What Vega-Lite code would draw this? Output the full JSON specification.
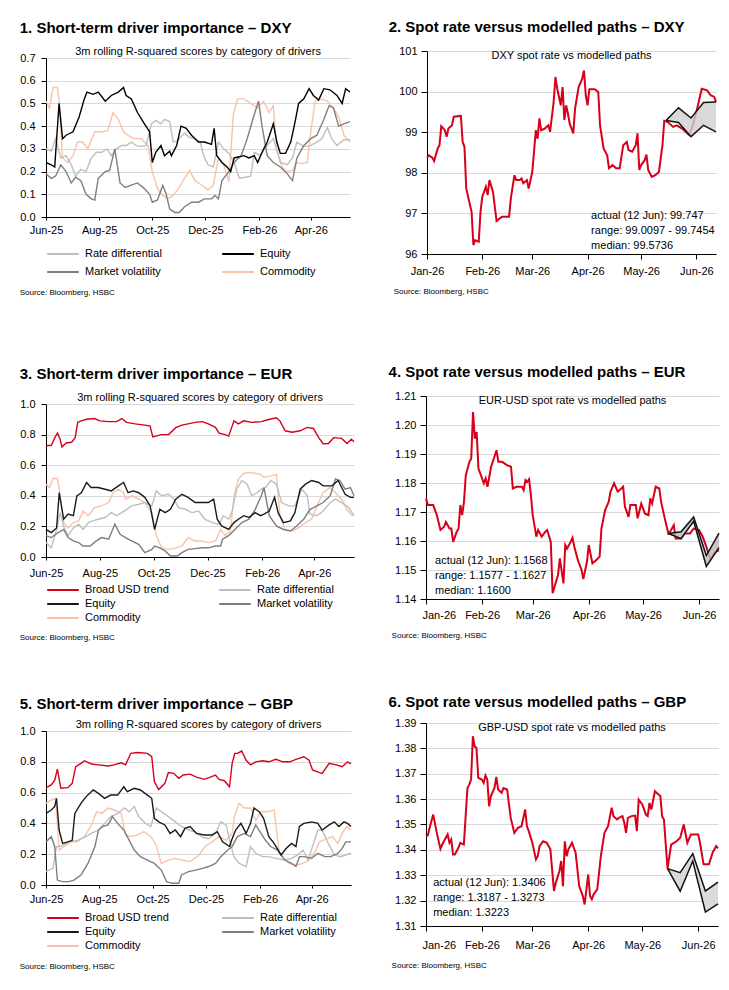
{
  "$schema": "https://vega.github.io/schema/vega-lite/v6.json",
  "background": "white",
  "padding": {"left": 19, "top": 20, "right": 5, "bottom": 5},
  "config": {
    "font": "Liberation Sans",
    "view": {"stroke": null},
    "title": {"color": "#000", "fontWeight": "normal", "font": "Liberation Sans"},
    "axis": {"labelFontSize": 11, "labelColor": "#000", "domainColor": "#000", "tickColor": "#000", "gridColor": "#d9d9d9", "labelFont": "Liberation Sans", "labelOverlap": false},
    "legend": {"labelFontSize": 11, "labelColor": "#000", "labelFont": "Liberation Sans", "symbolType": "stroke", "symbolSize": 1000, "symbolStrokeWidth": 2, "labelOffset": 5, "padding": 0},
    "text": {"font": "Liberation Sans"}
  },
  "datasets": {
    "dxy_drivers": [
      {"date":"2025-06-01","series":"Commodity","value":0.51},{"date":"2025-06-05","series":"Commodity","value":0.48},{"date":"2025-06-09","series":"Commodity","value":0.57},{"date":"2025-06-14","series":"Commodity","value":0.57},{"date":"2025-06-16","series":"Commodity","value":0.52},{"date":"2025-06-20","series":"Commodity","value":0.26},{"date":"2025-06-26","series":"Commodity","value":0.24},{"date":"2025-07-02","series":"Commodity","value":0.27},{"date":"2025-07-07","series":"Commodity","value":0.33},{"date":"2025-07-13","series":"Commodity","value":0.33},{"date":"2025-07-19","series":"Commodity","value":0.30},{"date":"2025-07-27","series":"Commodity","value":0.375},{"date":"2025-08-04","series":"Commodity","value":0.375},{"date":"2025-08-11","series":"Commodity","value":0.38},{"date":"2025-08-17","series":"Commodity","value":0.46},{"date":"2025-08-23","series":"Commodity","value":0.43},{"date":"2025-08-29","series":"Commodity","value":0.375},{"date":"2025-09-03","series":"Commodity","value":0.36},{"date":"2025-09-10","series":"Commodity","value":0.345},{"date":"2025-09-18","series":"Commodity","value":0.345},{"date":"2025-09-26","series":"Commodity","value":0.315},{"date":"2025-10-01","series":"Commodity","value":0.20},{"date":"2025-10-07","series":"Commodity","value":0.125},{"date":"2025-10-13","series":"Commodity","value":0.095},{"date":"2025-10-19","series":"Commodity","value":0.08},{"date":"2025-10-25","series":"Commodity","value":0.095},{"date":"2025-10-31","series":"Commodity","value":0.125},{"date":"2025-11-07","series":"Commodity","value":0.17},{"date":"2025-11-13","series":"Commodity","value":0.205},{"date":"2025-11-19","series":"Commodity","value":0.16},{"date":"2025-11-27","series":"Commodity","value":0.14},{"date":"2025-12-04","series":"Commodity","value":0.12},{"date":"2025-12-10","series":"Commodity","value":0.14},{"date":"2025-12-16","series":"Commodity","value":0.26},{"date":"2025-12-22","series":"Commodity","value":0.23},{"date":"2025-12-28","series":"Commodity","value":0.155},{"date":"2026-01-02","series":"Commodity","value":0.45},{"date":"2026-01-07","series":"Commodity","value":0.52},{"date":"2026-01-14","series":"Commodity","value":0.52},{"date":"2026-01-22","series":"Commodity","value":0.50},{"date":"2026-01-30","series":"Commodity","value":0.48},{"date":"2026-02-06","series":"Commodity","value":0.51},{"date":"2026-02-12","series":"Commodity","value":0.46},{"date":"2026-02-17","series":"Commodity","value":0.49},{"date":"2026-02-21","series":"Commodity","value":0.30},{"date":"2026-02-27","series":"Commodity","value":0.22},{"date":"2026-03-05","series":"Commodity","value":0.20},{"date":"2026-03-11","series":"Commodity","value":0.205},{"date":"2026-03-16","series":"Commodity","value":0.24},{"date":"2026-03-22","series":"Commodity","value":0.235},{"date":"2026-03-28","series":"Commodity","value":0.24},{"date":"2026-04-01","series":"Commodity","value":0.375},{"date":"2026-04-06","series":"Commodity","value":0.51},{"date":"2026-04-14","series":"Commodity","value":0.52},{"date":"2026-04-20","series":"Commodity","value":0.51},{"date":"2026-04-27","series":"Commodity","value":0.48},{"date":"2026-05-03","series":"Commodity","value":0.44},{"date":"2026-05-09","series":"Commodity","value":0.36},{"date":"2026-05-16","series":"Commodity","value":0.33},
      {"date":"2025-06-01","series":"Rate differential","value":0.30},{"date":"2025-06-07","series":"Rate differential","value":0.29},{"date":"2025-06-12","series":"Rate differential","value":0.345},{"date":"2025-06-18","series":"Rate differential","value":0.26},{"date":"2025-06-24","series":"Rate differential","value":0.27},{"date":"2025-06-30","series":"Rate differential","value":0.23},{"date":"2025-07-05","series":"Rate differential","value":0.18},{"date":"2025-07-11","series":"Rate differential","value":0.21},{"date":"2025-07-17","series":"Rate differential","value":0.20},{"date":"2025-07-23","series":"Rate differential","value":0.26},{"date":"2025-07-29","series":"Rate differential","value":0.285},{"date":"2025-08-04","series":"Rate differential","value":0.285},{"date":"2025-08-10","series":"Rate differential","value":0.30},{"date":"2025-08-15","series":"Rate differential","value":0.27},{"date":"2025-08-21","series":"Rate differential","value":0.30},{"date":"2025-08-27","series":"Rate differential","value":0.315},{"date":"2025-09-01","series":"Rate differential","value":0.315},{"date":"2025-09-07","series":"Rate differential","value":0.33},{"date":"2025-09-12","series":"Rate differential","value":0.315},{"date":"2025-09-18","series":"Rate differential","value":0.31},{"date":"2025-09-24","series":"Rate differential","value":0.315},{"date":"2025-09-30","series":"Rate differential","value":0.41},{"date":"2025-10-05","series":"Rate differential","value":0.425},{"date":"2025-10-11","series":"Rate differential","value":0.41},{"date":"2025-10-15","series":"Rate differential","value":0.43},{"date":"2025-10-21","series":"Rate differential","value":0.42},{"date":"2025-10-25","series":"Rate differential","value":0.33},{"date":"2025-10-31","series":"Rate differential","value":0.34},{"date":"2025-11-07","series":"Rate differential","value":0.37},{"date":"2025-11-13","series":"Rate differential","value":0.35},{"date":"2025-11-19","series":"Rate differential","value":0.345},{"date":"2025-11-25","series":"Rate differential","value":0.33},{"date":"2025-11-29","series":"Rate differential","value":0.27},{"date":"2025-12-04","series":"Rate differential","value":0.23},{"date":"2025-12-10","series":"Rate differential","value":0.22},{"date":"2025-12-16","series":"Rate differential","value":0.33},{"date":"2025-12-22","series":"Rate differential","value":0.30},{"date":"2025-12-28","series":"Rate differential","value":0.28},{"date":"2026-01-03","series":"Rate differential","value":0.24},{"date":"2026-01-09","series":"Rate differential","value":0.17},{"date":"2026-01-16","series":"Rate differential","value":0.175},{"date":"2026-01-22","series":"Rate differential","value":0.18},{"date":"2026-01-26","series":"Rate differential","value":0.285},{"date":"2026-02-02","series":"Rate differential","value":0.27},{"date":"2026-02-10","series":"Rate differential","value":0.315},{"date":"2026-02-17","series":"Rate differential","value":0.345},{"date":"2026-02-25","series":"Rate differential","value":0.24},{"date":"2026-03-05","series":"Rate differential","value":0.23},{"date":"2026-03-11","series":"Rate differential","value":0.26},{"date":"2026-03-16","series":"Rate differential","value":0.33},{"date":"2026-03-24","series":"Rate differential","value":0.31},{"date":"2026-04-01","series":"Rate differential","value":0.315},{"date":"2026-04-08","series":"Rate differential","value":0.33},{"date":"2026-04-14","series":"Rate differential","value":0.345},{"date":"2026-04-20","series":"Rate differential","value":0.395},{"date":"2026-04-25","series":"Rate differential","value":0.345},{"date":"2026-05-01","series":"Rate differential","value":0.315},{"date":"2026-05-09","series":"Rate differential","value":0.34},{"date":"2026-05-16","series":"Rate differential","value":0.34},
      {"date":"2025-06-01","series":"Market volatility","value":0.19},{"date":"2025-06-07","series":"Market volatility","value":0.17},{"date":"2025-06-12","series":"Market volatility","value":0.18},{"date":"2025-06-18","series":"Market volatility","value":0.23},{"date":"2025-06-24","series":"Market volatility","value":0.20},{"date":"2025-06-30","series":"Market volatility","value":0.15},{"date":"2025-07-05","series":"Market volatility","value":0.175},{"date":"2025-07-11","series":"Market volatility","value":0.16},{"date":"2025-07-17","series":"Market volatility","value":0.10},{"date":"2025-07-23","series":"Market volatility","value":0.08},{"date":"2025-07-27","series":"Market volatility","value":0.075},{"date":"2025-07-31","series":"Market volatility","value":0.17},{"date":"2025-08-08","series":"Market volatility","value":0.20},{"date":"2025-08-13","series":"Market volatility","value":0.205},{"date":"2025-08-19","series":"Market volatility","value":0.30},{"date":"2025-08-25","series":"Market volatility","value":0.15},{"date":"2025-08-31","series":"Market volatility","value":0.13},{"date":"2025-09-07","series":"Market volatility","value":0.14},{"date":"2025-09-14","series":"Market volatility","value":0.15},{"date":"2025-09-22","series":"Market volatility","value":0.125},{"date":"2025-09-28","series":"Market volatility","value":0.10},{"date":"2025-10-01","series":"Market volatility","value":0.065},{"date":"2025-10-07","series":"Market volatility","value":0.075},{"date":"2025-10-13","series":"Market volatility","value":0.14},{"date":"2025-10-17","series":"Market volatility","value":0.10},{"date":"2025-10-21","series":"Market volatility","value":0.035},{"date":"2025-10-27","series":"Market volatility","value":0.02},{"date":"2025-11-01","series":"Market volatility","value":0.02},{"date":"2025-11-07","series":"Market volatility","value":0.045},{"date":"2025-11-15","series":"Market volatility","value":0.065},{"date":"2025-11-23","series":"Market volatility","value":0.065},{"date":"2025-11-30","series":"Market volatility","value":0.08},{"date":"2025-12-08","series":"Market volatility","value":0.08},{"date":"2025-12-12","series":"Market volatility","value":0.095},{"date":"2025-12-16","series":"Market volatility","value":0.08},{"date":"2025-12-20","series":"Market volatility","value":0.16},{"date":"2025-12-28","series":"Market volatility","value":0.20},{"date":"2026-01-03","series":"Market volatility","value":0.24},{"date":"2026-01-11","series":"Market volatility","value":0.27},{"date":"2026-01-18","series":"Market volatility","value":0.345},{"date":"2026-01-26","series":"Market volatility","value":0.45},{"date":"2026-01-31","series":"Market volatility","value":0.51},{"date":"2026-02-04","series":"Market volatility","value":0.40},{"date":"2026-02-10","series":"Market volatility","value":0.27},{"date":"2026-02-17","series":"Market volatility","value":0.24},{"date":"2026-02-25","series":"Market volatility","value":0.22},{"date":"2026-03-05","series":"Market volatility","value":0.19},{"date":"2026-03-11","series":"Market volatility","value":0.16},{"date":"2026-03-16","series":"Market volatility","value":0.26},{"date":"2026-03-24","series":"Market volatility","value":0.315},{"date":"2026-04-01","series":"Market volatility","value":0.345},{"date":"2026-04-08","series":"Market volatility","value":0.36},{"date":"2026-04-16","series":"Market volatility","value":0.43},{"date":"2026-04-22","series":"Market volatility","value":0.49},{"date":"2026-04-27","series":"Market volatility","value":0.48},{"date":"2026-05-03","series":"Market volatility","value":0.40},{"date":"2026-05-09","series":"Market volatility","value":0.41},{"date":"2026-05-16","series":"Market volatility","value":0.42},
      {"date":"2025-06-01","series":"Equity","value":0.24},{"date":"2025-06-07","series":"Equity","value":0.23},{"date":"2025-06-11","series":"Equity","value":0.22},{"date":"2025-06-16","series":"Equity","value":0.50},{"date":"2025-06-20","series":"Equity","value":0.345},{"date":"2025-06-24","series":"Equity","value":0.36},{"date":"2025-07-02","series":"Equity","value":0.375},{"date":"2025-07-09","series":"Equity","value":0.44},{"date":"2025-07-15","series":"Equity","value":0.52},{"date":"2025-07-18","series":"Equity","value":0.55},{"date":"2025-07-25","series":"Equity","value":0.54},{"date":"2025-07-31","series":"Equity","value":0.55},{"date":"2025-08-08","series":"Equity","value":0.51},{"date":"2025-08-15","series":"Equity","value":0.535},{"date":"2025-08-23","series":"Equity","value":0.55},{"date":"2025-08-29","series":"Equity","value":0.57},{"date":"2025-09-01","series":"Equity","value":0.535},{"date":"2025-09-07","series":"Equity","value":0.52},{"date":"2025-09-14","series":"Equity","value":0.46},{"date":"2025-09-22","series":"Equity","value":0.41},{"date":"2025-09-28","series":"Equity","value":0.375},{"date":"2025-10-01","series":"Equity","value":0.24},{"date":"2025-10-05","series":"Equity","value":0.285},{"date":"2025-10-11","series":"Equity","value":0.315},{"date":"2025-10-15","series":"Equity","value":0.27},{"date":"2025-10-21","series":"Equity","value":0.29},{"date":"2025-10-23","series":"Equity","value":0.27},{"date":"2025-10-29","series":"Equity","value":0.315},{"date":"2025-11-03","series":"Equity","value":0.40},{"date":"2025-11-09","series":"Equity","value":0.39},{"date":"2025-11-15","series":"Equity","value":0.36},{"date":"2025-11-23","series":"Equity","value":0.33},{"date":"2025-11-30","series":"Equity","value":0.33},{"date":"2025-12-08","series":"Equity","value":0.32},{"date":"2025-12-11","series":"Equity","value":0.39},{"date":"2025-12-14","series":"Equity","value":0.27},{"date":"2025-12-20","series":"Equity","value":0.24},{"date":"2025-12-26","series":"Equity","value":0.22},{"date":"2025-12-30","series":"Equity","value":0.20},{"date":"2026-01-03","series":"Equity","value":0.26},{"date":"2026-01-09","series":"Equity","value":0.265},{"date":"2026-01-14","series":"Equity","value":0.27},{"date":"2026-01-20","series":"Equity","value":0.26},{"date":"2026-01-26","series":"Equity","value":0.27},{"date":"2026-01-30","series":"Equity","value":0.24},{"date":"2026-02-04","series":"Equity","value":0.285},{"date":"2026-02-10","series":"Equity","value":0.33},{"date":"2026-02-17","series":"Equity","value":0.41},{"date":"2026-02-21","series":"Equity","value":0.33},{"date":"2026-02-25","series":"Equity","value":0.28},{"date":"2026-03-03","series":"Equity","value":0.28},{"date":"2026-03-09","series":"Equity","value":0.33},{"date":"2026-03-14","series":"Equity","value":0.42},{"date":"2026-03-18","series":"Equity","value":0.50},{"date":"2026-03-24","series":"Equity","value":0.52},{"date":"2026-03-30","series":"Equity","value":0.565},{"date":"2026-04-04","series":"Equity","value":0.535},{"date":"2026-04-10","series":"Equity","value":0.515},{"date":"2026-04-16","series":"Equity","value":0.565},{"date":"2026-04-23","series":"Equity","value":0.56},{"date":"2026-05-01","series":"Equity","value":0.535},{"date":"2026-05-07","series":"Equity","value":0.50},{"date":"2026-05-11","series":"Equity","value":0.565},{"date":"2026-05-16","series":"Equity","value":0.55}
    ],
    "eur_drivers": [
      {"date":"2025-06-01","series":"Commodity","value":0.476},{"date":"2025-06-05","series":"Commodity","value":0.454},{"date":"2025-06-09","series":"Commodity","value":0.513},{"date":"2025-06-14","series":"Commodity","value":0.513},{"date":"2025-06-17","series":"Commodity","value":0.40},{"date":"2025-06-21","series":"Commodity","value":0.225},{"date":"2025-06-26","series":"Commodity","value":0.19},{"date":"2025-07-02","series":"Commodity","value":0.225},{"date":"2025-07-08","series":"Commodity","value":0.236},{"date":"2025-07-13","series":"Commodity","value":0.30},{"date":"2025-07-19","series":"Commodity","value":0.27},{"date":"2025-07-26","series":"Commodity","value":0.323},{"date":"2025-08-03","series":"Commodity","value":0.334},{"date":"2025-08-11","series":"Commodity","value":0.356},{"date":"2025-08-16","series":"Commodity","value":0.42},{"date":"2025-08-22","series":"Commodity","value":0.443},{"date":"2025-08-28","series":"Commodity","value":0.42},{"date":"2025-08-30","series":"Commodity","value":0.378},{"date":"2025-09-06","series":"Commodity","value":0.40},{"date":"2025-09-14","series":"Commodity","value":0.378},{"date":"2025-09-21","series":"Commodity","value":0.356},{"date":"2025-09-29","series":"Commodity","value":0.29},{"date":"2025-10-04","series":"Commodity","value":0.14},{"date":"2025-10-10","series":"Commodity","value":0.06},{"date":"2025-10-18","series":"Commodity","value":0.05},{"date":"2025-10-26","series":"Commodity","value":0.06},{"date":"2025-11-02","series":"Commodity","value":0.072},{"date":"2025-11-09","series":"Commodity","value":0.127},{"date":"2025-11-17","series":"Commodity","value":0.105},{"date":"2025-11-25","series":"Commodity","value":0.105},{"date":"2025-12-02","series":"Commodity","value":0.094},{"date":"2025-12-10","series":"Commodity","value":0.105},{"date":"2025-12-16","series":"Commodity","value":0.18},{"date":"2025-12-21","series":"Commodity","value":0.14},{"date":"2025-12-27","series":"Commodity","value":0.17},{"date":"2025-12-31","series":"Commodity","value":0.40},{"date":"2026-01-05","series":"Commodity","value":0.51},{"date":"2026-01-11","series":"Commodity","value":0.548},{"date":"2026-01-20","series":"Commodity","value":0.552},{"date":"2026-01-30","series":"Commodity","value":0.54},{"date":"2026-02-03","series":"Commodity","value":0.52},{"date":"2026-02-11","series":"Commodity","value":0.53},{"date":"2026-02-17","series":"Commodity","value":0.54},{"date":"2026-02-21","series":"Commodity","value":0.27},{"date":"2026-02-27","series":"Commodity","value":0.18},{"date":"2026-03-07","series":"Commodity","value":0.17},{"date":"2026-03-14","series":"Commodity","value":0.19},{"date":"2026-03-22","series":"Commodity","value":0.225},{"date":"2026-03-29","series":"Commodity","value":0.247},{"date":"2026-04-04","series":"Commodity","value":0.334},{"date":"2026-04-11","series":"Commodity","value":0.42},{"date":"2026-04-19","series":"Commodity","value":0.454},{"date":"2026-04-25","series":"Commodity","value":0.42},{"date":"2026-05-02","series":"Commodity","value":0.378},{"date":"2026-05-08","series":"Commodity","value":0.31},{"date":"2026-05-14","series":"Commodity","value":0.27},{"date":"2026-05-16","series":"Commodity","value":0.28},
      {"date":"2025-06-01","series":"Rate differential","value":0.094},{"date":"2025-06-07","series":"Rate differential","value":0.06},{"date":"2025-06-13","series":"Rate differential","value":0.18},{"date":"2025-06-17","series":"Rate differential","value":0.29},{"date":"2025-06-21","series":"Rate differential","value":0.20},{"date":"2025-06-26","series":"Rate differential","value":0.14},{"date":"2025-07-02","series":"Rate differential","value":0.19},{"date":"2025-07-08","series":"Rate differential","value":0.214},{"date":"2025-07-13","series":"Rate differential","value":0.18},{"date":"2025-07-19","series":"Rate differential","value":0.225},{"date":"2025-07-24","series":"Rate differential","value":0.236},{"date":"2025-07-30","series":"Rate differential","value":0.247},{"date":"2025-08-07","series":"Rate differential","value":0.258},{"date":"2025-08-14","series":"Rate differential","value":0.29},{"date":"2025-08-20","series":"Rate differential","value":0.27},{"date":"2025-08-26","series":"Rate differential","value":0.29},{"date":"2025-08-31","series":"Rate differential","value":0.31},{"date":"2025-09-06","series":"Rate differential","value":0.334},{"date":"2025-09-14","series":"Rate differential","value":0.345},{"date":"2025-09-21","series":"Rate differential","value":0.356},{"date":"2025-09-29","series":"Rate differential","value":0.334},{"date":"2025-10-04","series":"Rate differential","value":0.432},{"date":"2025-10-10","series":"Rate differential","value":0.40},{"date":"2025-10-18","series":"Rate differential","value":0.41},{"date":"2025-10-24","series":"Rate differential","value":0.378},{"date":"2025-10-29","series":"Rate differential","value":0.323},{"date":"2025-11-06","series":"Rate differential","value":0.312},{"date":"2025-11-13","series":"Rate differential","value":0.29},{"date":"2025-11-21","series":"Rate differential","value":0.30},{"date":"2025-11-28","series":"Rate differential","value":0.247},{"date":"2025-12-06","series":"Rate differential","value":0.225},{"date":"2025-12-14","series":"Rate differential","value":0.214},{"date":"2025-12-19","series":"Rate differential","value":0.27},{"date":"2025-12-25","series":"Rate differential","value":0.247},{"date":"2025-12-29","series":"Rate differential","value":0.30},{"date":"2026-01-03","series":"Rate differential","value":0.443},{"date":"2026-01-09","series":"Rate differential","value":0.50},{"date":"2026-01-15","series":"Rate differential","value":0.476},{"date":"2026-01-20","series":"Rate differential","value":0.40},{"date":"2026-01-26","series":"Rate differential","value":0.42},{"date":"2026-01-31","series":"Rate differential","value":0.443},{"date":"2026-02-05","series":"Rate differential","value":0.454},{"date":"2026-02-11","series":"Rate differential","value":0.50},{"date":"2026-02-17","series":"Rate differential","value":0.476},{"date":"2026-02-23","series":"Rate differential","value":0.356},{"date":"2026-03-03","series":"Rate differential","value":0.334},{"date":"2026-03-10","series":"Rate differential","value":0.334},{"date":"2026-03-18","series":"Rate differential","value":0.443},{"date":"2026-03-24","series":"Rate differential","value":0.40},{"date":"2026-03-27","series":"Rate differential","value":0.28},{"date":"2026-04-04","series":"Rate differential","value":0.27},{"date":"2026-04-11","series":"Rate differential","value":0.30},{"date":"2026-04-19","series":"Rate differential","value":0.356},{"date":"2026-04-25","series":"Rate differential","value":0.378},{"date":"2026-05-02","series":"Rate differential","value":0.356},{"date":"2026-05-10","series":"Rate differential","value":0.323},{"date":"2026-05-16","series":"Rate differential","value":0.27},
      {"date":"2025-06-01","series":"Market volatility","value":0.14},{"date":"2025-06-07","series":"Market volatility","value":0.127},{"date":"2025-06-15","series":"Market volatility","value":0.16},{"date":"2025-06-21","series":"Market volatility","value":0.18},{"date":"2025-06-26","series":"Market volatility","value":0.127},{"date":"2025-07-02","series":"Market volatility","value":0.105},{"date":"2025-07-08","series":"Market volatility","value":0.094},{"date":"2025-07-13","series":"Market volatility","value":0.072},{"date":"2025-07-21","series":"Market volatility","value":0.072},{"date":"2025-07-28","series":"Market volatility","value":0.105},{"date":"2025-08-03","series":"Market volatility","value":0.127},{"date":"2025-08-11","series":"Market volatility","value":0.116},{"date":"2025-08-18","series":"Market volatility","value":0.214},{"date":"2025-08-24","series":"Market volatility","value":0.148},{"date":"2025-08-30","series":"Market volatility","value":0.127},{"date":"2025-09-06","series":"Market volatility","value":0.105},{"date":"2025-09-14","series":"Market volatility","value":0.083},{"date":"2025-09-21","series":"Market volatility","value":0.028},{"date":"2025-09-29","series":"Market volatility","value":0.05},{"date":"2025-10-02","series":"Market volatility","value":0.072},{"date":"2025-10-08","series":"Market volatility","value":0.06},{"date":"2025-10-14","series":"Market volatility","value":0.04},{"date":"2025-10-20","series":"Market volatility","value":0.007},{"date":"2025-10-28","series":"Market volatility","value":0.007},{"date":"2025-11-02","series":"Market volatility","value":0.028},{"date":"2025-11-09","series":"Market volatility","value":0.05},{"date":"2025-11-17","series":"Market volatility","value":0.055},{"date":"2025-11-25","series":"Market volatility","value":0.06},{"date":"2025-12-02","series":"Market volatility","value":0.06},{"date":"2025-12-10","series":"Market volatility","value":0.072},{"date":"2025-12-16","series":"Market volatility","value":0.072},{"date":"2025-12-18","series":"Market volatility","value":0.116},{"date":"2025-12-25","series":"Market volatility","value":0.14},{"date":"2026-01-01","series":"Market volatility","value":0.18},{"date":"2026-01-09","series":"Market volatility","value":0.225},{"date":"2026-01-17","series":"Market volatility","value":0.247},{"date":"2026-01-24","series":"Market volatility","value":0.31},{"date":"2026-01-31","series":"Market volatility","value":0.40},{"date":"2026-02-03","series":"Market volatility","value":0.454},{"date":"2026-02-09","series":"Market volatility","value":0.27},{"date":"2026-02-17","series":"Market volatility","value":0.203},{"date":"2026-02-25","series":"Market volatility","value":0.18},{"date":"2026-03-05","series":"Market volatility","value":0.17},{"date":"2026-03-12","series":"Market volatility","value":0.203},{"date":"2026-03-20","series":"Market volatility","value":0.247},{"date":"2026-03-27","series":"Market volatility","value":0.31},{"date":"2026-04-04","series":"Market volatility","value":0.334},{"date":"2026-04-11","series":"Market volatility","value":0.356},{"date":"2026-04-19","series":"Market volatility","value":0.40},{"date":"2026-04-25","series":"Market volatility","value":0.51},{"date":"2026-04-30","series":"Market volatility","value":0.50},{"date":"2026-05-06","series":"Market volatility","value":0.443},{"date":"2026-05-12","series":"Market volatility","value":0.454},{"date":"2026-05-16","series":"Market volatility","value":0.40},
      {"date":"2025-06-01","series":"Equity","value":0.18},{"date":"2025-06-07","series":"Equity","value":0.16},{"date":"2025-06-13","series":"Equity","value":0.19},{"date":"2025-06-16","series":"Equity","value":0.42},{"date":"2025-06-21","series":"Equity","value":0.247},{"date":"2025-06-26","series":"Equity","value":0.28},{"date":"2025-07-02","series":"Equity","value":0.27},{"date":"2025-07-06","series":"Equity","value":0.40},{"date":"2025-07-11","series":"Equity","value":0.42},{"date":"2025-07-17","series":"Equity","value":0.487},{"date":"2025-07-22","series":"Equity","value":0.454},{"date":"2025-07-30","series":"Equity","value":0.454},{"date":"2025-08-07","series":"Equity","value":0.443},{"date":"2025-08-14","series":"Equity","value":0.432},{"date":"2025-08-22","series":"Equity","value":0.465},{"date":"2025-08-28","series":"Equity","value":0.487},{"date":"2025-09-02","series":"Equity","value":0.42},{"date":"2025-09-08","series":"Equity","value":0.432},{"date":"2025-09-14","series":"Equity","value":0.42},{"date":"2025-09-21","series":"Equity","value":0.39},{"date":"2025-09-27","series":"Equity","value":0.334},{"date":"2025-10-02","series":"Equity","value":0.18},{"date":"2025-10-08","series":"Equity","value":0.312},{"date":"2025-10-14","series":"Equity","value":0.29},{"date":"2025-10-20","series":"Equity","value":0.312},{"date":"2025-10-26","series":"Equity","value":0.378},{"date":"2025-11-02","series":"Equity","value":0.41},{"date":"2025-11-09","series":"Equity","value":0.39},{"date":"2025-11-17","series":"Equity","value":0.356},{"date":"2025-11-25","series":"Equity","value":0.356},{"date":"2025-12-02","series":"Equity","value":0.356},{"date":"2025-12-08","series":"Equity","value":0.378},{"date":"2025-12-12","series":"Equity","value":0.247},{"date":"2025-12-17","series":"Equity","value":0.203},{"date":"2025-12-25","series":"Equity","value":0.18},{"date":"2025-12-31","series":"Equity","value":0.225},{"date":"2026-01-05","series":"Equity","value":0.247},{"date":"2026-01-11","series":"Equity","value":0.27},{"date":"2026-01-17","series":"Equity","value":0.258},{"date":"2026-01-24","series":"Equity","value":0.29},{"date":"2026-01-30","series":"Equity","value":0.27},{"date":"2026-02-03","series":"Equity","value":0.28},{"date":"2026-02-09","series":"Equity","value":0.30},{"date":"2026-02-15","series":"Equity","value":0.39},{"date":"2026-02-19","series":"Equity","value":0.29},{"date":"2026-02-25","series":"Equity","value":0.225},{"date":"2026-03-05","series":"Equity","value":0.236},{"date":"2026-03-10","series":"Equity","value":0.29},{"date":"2026-03-16","series":"Equity","value":0.443},{"date":"2026-03-22","series":"Equity","value":0.476},{"date":"2026-03-29","series":"Equity","value":0.50},{"date":"2026-04-06","series":"Equity","value":0.487},{"date":"2026-04-11","series":"Equity","value":0.465},{"date":"2026-04-21","series":"Equity","value":0.465},{"date":"2026-04-28","series":"Equity","value":0.50},{"date":"2026-05-06","series":"Equity","value":0.41},{"date":"2026-05-12","series":"Equity","value":0.39},{"date":"2026-05-16","series":"Equity","value":0.39},
      {"date":"2025-06-01","series":"Broad USD trend","value":0.727},{"date":"2025-06-07","series":"Broad USD trend","value":0.73},{"date":"2025-06-11","series":"Broad USD trend","value":0.78},{"date":"2025-06-14","series":"Broad USD trend","value":0.81},{"date":"2025-06-17","series":"Broad USD trend","value":0.77},{"date":"2025-06-19","series":"Broad USD trend","value":0.72},{"date":"2025-06-24","series":"Broad USD trend","value":0.745},{"date":"2025-06-30","series":"Broad USD trend","value":0.75},{"date":"2025-07-04","series":"Broad USD trend","value":0.78},{"date":"2025-07-07","series":"Broad USD trend","value":0.88},{"date":"2025-07-11","series":"Broad USD trend","value":0.89},{"date":"2025-07-17","series":"Broad USD trend","value":0.90},{"date":"2025-07-26","series":"Broad USD trend","value":0.905},{"date":"2025-08-01","series":"Broad USD trend","value":0.89},{"date":"2025-08-11","series":"Broad USD trend","value":0.885},{"date":"2025-08-20","series":"Broad USD trend","value":0.885},{"date":"2025-08-26","series":"Broad USD trend","value":0.905},{"date":"2025-08-31","series":"Broad USD trend","value":0.88},{"date":"2025-09-10","series":"Broad USD trend","value":0.87},{"date":"2025-09-21","series":"Broad USD trend","value":0.862},{"date":"2025-09-27","series":"Broad USD trend","value":0.855},{"date":"2025-09-30","series":"Broad USD trend","value":0.785},{"date":"2025-10-10","series":"Broad USD trend","value":0.80},{"date":"2025-10-18","series":"Broad USD trend","value":0.80},{"date":"2025-10-26","series":"Broad USD trend","value":0.845},{"date":"2025-11-02","series":"Broad USD trend","value":0.862},{"date":"2025-11-09","series":"Broad USD trend","value":0.87},{"date":"2025-11-17","series":"Broad USD trend","value":0.88},{"date":"2025-11-25","series":"Broad USD trend","value":0.885},{"date":"2025-12-02","series":"Broad USD trend","value":0.87},{"date":"2025-12-10","series":"Broad USD trend","value":0.847},{"date":"2025-12-14","series":"Broad USD trend","value":0.81},{"date":"2025-12-21","series":"Broad USD trend","value":0.80},{"date":"2025-12-25","series":"Broad USD trend","value":0.79},{"date":"2025-12-31","series":"Broad USD trend","value":0.89},{"date":"2026-01-05","series":"Broad USD trend","value":0.87},{"date":"2026-01-11","series":"Broad USD trend","value":0.89},{"date":"2026-01-20","series":"Broad USD trend","value":0.88},{"date":"2026-01-31","series":"Broad USD trend","value":0.885},{"date":"2026-02-07","series":"Broad USD trend","value":0.897},{"date":"2026-02-17","series":"Broad USD trend","value":0.91},{"date":"2026-02-21","series":"Broad USD trend","value":0.89},{"date":"2026-02-27","series":"Broad USD trend","value":0.825},{"date":"2026-03-07","series":"Broad USD trend","value":0.815},{"date":"2026-03-16","series":"Broad USD trend","value":0.825},{"date":"2026-03-24","series":"Broad USD trend","value":0.847},{"date":"2026-03-31","series":"Broad USD trend","value":0.84},{"date":"2026-04-06","series":"Broad USD trend","value":0.78},{"date":"2026-04-11","series":"Broad USD trend","value":0.74},{"date":"2026-04-17","series":"Broad USD trend","value":0.742},{"date":"2026-04-23","series":"Broad USD trend","value":0.78},{"date":"2026-05-02","series":"Broad USD trend","value":0.775},{"date":"2026-05-08","series":"Broad USD trend","value":0.742},{"date":"2026-05-13","series":"Broad USD trend","value":0.77},{"date":"2026-05-16","series":"Broad USD trend","value":0.753}
    ],
    "gbp_drivers": [
      {"date":"2025-06-01","series":"Commodity","value":0.53},{"date":"2025-06-07","series":"Commodity","value":0.552},{"date":"2025-06-12","series":"Commodity","value":0.563},{"date":"2025-06-16","series":"Commodity","value":0.227},{"date":"2025-06-22","series":"Commodity","value":0.25},{"date":"2025-06-29","series":"Commodity","value":0.28},{"date":"2025-07-07","series":"Commodity","value":0.28},{"date":"2025-07-15","series":"Commodity","value":0.314},{"date":"2025-07-23","series":"Commodity","value":0.39},{"date":"2025-07-29","series":"Commodity","value":0.476},{"date":"2025-08-04","series":"Commodity","value":0.465},{"date":"2025-08-11","series":"Commodity","value":0.50},{"date":"2025-08-18","series":"Commodity","value":0.487},{"date":"2025-08-26","series":"Commodity","value":0.465},{"date":"2025-08-31","series":"Commodity","value":0.325},{"date":"2025-09-06","series":"Commodity","value":0.314},{"date":"2025-09-14","series":"Commodity","value":0.325},{"date":"2025-09-21","series":"Commodity","value":0.346},{"date":"2025-09-29","series":"Commodity","value":0.314},{"date":"2025-10-05","series":"Commodity","value":0.26},{"date":"2025-10-11","series":"Commodity","value":0.14},{"date":"2025-10-19","series":"Commodity","value":0.162},{"date":"2025-10-27","series":"Commodity","value":0.173},{"date":"2025-11-03","series":"Commodity","value":0.162},{"date":"2025-11-13","series":"Commodity","value":0.152},{"date":"2025-11-23","series":"Commodity","value":0.195},{"date":"2025-11-30","series":"Commodity","value":0.25},{"date":"2025-12-08","series":"Commodity","value":0.28},{"date":"2025-12-16","series":"Commodity","value":0.314},{"date":"2025-12-24","series":"Commodity","value":0.292},{"date":"2025-12-31","series":"Commodity","value":0.335},{"date":"2026-01-03","series":"Commodity","value":0.455},{"date":"2026-01-08","series":"Commodity","value":0.53},{"date":"2026-01-14","series":"Commodity","value":0.50},{"date":"2026-01-21","series":"Commodity","value":0.50},{"date":"2026-01-27","series":"Commodity","value":0.42},{"date":"2026-02-02","series":"Commodity","value":0.476},{"date":"2026-02-09","series":"Commodity","value":0.476},{"date":"2026-02-17","series":"Commodity","value":0.487},{"date":"2026-02-23","series":"Commodity","value":0.206},{"date":"2026-03-01","series":"Commodity","value":0.173},{"date":"2026-03-06","series":"Commodity","value":0.14},{"date":"2026-03-14","series":"Commodity","value":0.13},{"date":"2026-03-22","series":"Commodity","value":0.14},{"date":"2026-03-29","series":"Commodity","value":0.162},{"date":"2026-04-04","series":"Commodity","value":0.206},{"date":"2026-04-10","series":"Commodity","value":0.28},{"date":"2026-04-18","series":"Commodity","value":0.30},{"date":"2026-04-25","series":"Commodity","value":0.314},{"date":"2026-05-01","series":"Commodity","value":0.27},{"date":"2026-05-06","series":"Commodity","value":0.335},{"date":"2026-05-11","series":"Commodity","value":0.38},{"date":"2026-05-16","series":"Commodity","value":0.357},
      {"date":"2025-06-01","series":"Rate differential","value":0.087},{"date":"2025-06-09","series":"Rate differential","value":0.108},{"date":"2025-06-13","series":"Rate differential","value":0.25},{"date":"2025-06-18","series":"Rate differential","value":0.25},{"date":"2025-06-24","series":"Rate differential","value":0.27},{"date":"2025-06-29","series":"Rate differential","value":0.28},{"date":"2025-07-07","series":"Rate differential","value":0.29},{"date":"2025-07-15","series":"Rate differential","value":0.31},{"date":"2025-07-23","series":"Rate differential","value":0.335},{"date":"2025-07-31","series":"Rate differential","value":0.357},{"date":"2025-08-07","series":"Rate differential","value":0.40},{"date":"2025-08-14","series":"Rate differential","value":0.444},{"date":"2025-08-22","series":"Rate differential","value":0.465},{"date":"2025-08-30","series":"Rate differential","value":0.50},{"date":"2025-09-04","series":"Rate differential","value":0.476},{"date":"2025-09-10","series":"Rate differential","value":0.51},{"date":"2025-09-15","series":"Rate differential","value":0.444},{"date":"2025-09-23","series":"Rate differential","value":0.40},{"date":"2025-09-29","series":"Rate differential","value":0.38},{"date":"2025-10-05","series":"Rate differential","value":0.50},{"date":"2025-10-11","series":"Rate differential","value":0.476},{"date":"2025-10-19","series":"Rate differential","value":0.444},{"date":"2025-10-27","series":"Rate differential","value":0.41},{"date":"2025-11-03","series":"Rate differential","value":0.38},{"date":"2025-11-11","series":"Rate differential","value":0.357},{"date":"2025-11-19","series":"Rate differential","value":0.346},{"date":"2025-11-27","series":"Rate differential","value":0.31},{"date":"2025-12-04","series":"Rate differential","value":0.30},{"date":"2025-12-12","series":"Rate differential","value":0.335},{"date":"2025-12-18","series":"Rate differential","value":0.41},{"date":"2025-12-24","series":"Rate differential","value":0.39},{"date":"2025-12-30","series":"Rate differential","value":0.25},{"date":"2026-01-02","series":"Rate differential","value":0.184},{"date":"2026-01-08","series":"Rate differential","value":0.14},{"date":"2026-01-16","series":"Rate differential","value":0.12},{"date":"2026-01-21","series":"Rate differential","value":0.25},{"date":"2026-01-27","series":"Rate differential","value":0.206},{"date":"2026-02-04","series":"Rate differential","value":0.184},{"date":"2026-02-11","series":"Rate differential","value":0.184},{"date":"2026-02-19","series":"Rate differential","value":0.173},{"date":"2026-03-01","series":"Rate differential","value":0.162},{"date":"2026-03-09","series":"Rate differential","value":0.173},{"date":"2026-03-16","series":"Rate differential","value":0.195},{"date":"2026-03-22","series":"Rate differential","value":0.227},{"date":"2026-03-28","series":"Rate differential","value":0.162},{"date":"2026-04-02","series":"Rate differential","value":0.25},{"date":"2026-04-08","series":"Rate differential","value":0.357},{"date":"2026-04-13","series":"Rate differential","value":0.357},{"date":"2026-04-20","series":"Rate differential","value":0.27},{"date":"2026-04-27","series":"Rate differential","value":0.195},{"date":"2026-05-04","series":"Rate differential","value":0.184},{"date":"2026-05-10","series":"Rate differential","value":0.195},{"date":"2026-05-16","series":"Rate differential","value":0.206},
      {"date":"2025-06-01","series":"Market volatility","value":0.28},{"date":"2025-06-07","series":"Market volatility","value":0.314},{"date":"2025-06-11","series":"Market volatility","value":0.25},{"date":"2025-06-14","series":"Market volatility","value":0.032},{"date":"2025-06-20","series":"Market volatility","value":0.022},{"date":"2025-06-27","series":"Market volatility","value":0.022},{"date":"2025-07-03","series":"Market volatility","value":0.032},{"date":"2025-07-11","series":"Market volatility","value":0.065},{"date":"2025-07-19","series":"Market volatility","value":0.14},{"date":"2025-07-27","series":"Market volatility","value":0.25},{"date":"2025-07-31","series":"Market volatility","value":0.357},{"date":"2025-08-05","series":"Market volatility","value":0.38},{"date":"2025-08-11","series":"Market volatility","value":0.39},{"date":"2025-08-16","series":"Market volatility","value":0.444},{"date":"2025-08-22","series":"Market volatility","value":0.40},{"date":"2025-08-29","series":"Market volatility","value":0.357},{"date":"2025-09-02","series":"Market volatility","value":0.314},{"date":"2025-09-10","series":"Market volatility","value":0.227},{"date":"2025-09-17","series":"Market volatility","value":0.184},{"date":"2025-09-25","series":"Market volatility","value":0.162},{"date":"2025-10-03","series":"Market volatility","value":0.14},{"date":"2025-10-11","series":"Market volatility","value":0.097},{"date":"2025-10-17","series":"Market volatility","value":0.022},{"date":"2025-10-23","series":"Market volatility","value":0.011},{"date":"2025-10-31","series":"Market volatility","value":0.011},{"date":"2025-11-03","series":"Market volatility","value":0.065},{"date":"2025-11-11","series":"Market volatility","value":0.087},{"date":"2025-11-19","series":"Market volatility","value":0.097},{"date":"2025-11-27","series":"Market volatility","value":0.108},{"date":"2025-12-04","series":"Market volatility","value":0.12},{"date":"2025-12-12","series":"Market volatility","value":0.14},{"date":"2025-12-18","series":"Market volatility","value":0.184},{"date":"2025-12-26","series":"Market volatility","value":0.227},{"date":"2025-12-31","series":"Market volatility","value":0.25},{"date":"2026-01-06","series":"Market volatility","value":0.314},{"date":"2026-01-14","series":"Market volatility","value":0.335},{"date":"2026-01-21","series":"Market volatility","value":0.314},{"date":"2026-01-27","series":"Market volatility","value":0.39},{"date":"2026-02-02","series":"Market volatility","value":0.335},{"date":"2026-02-07","series":"Market volatility","value":0.292},{"date":"2026-02-13","series":"Market volatility","value":0.25},{"date":"2026-02-21","series":"Market volatility","value":0.227},{"date":"2026-03-01","series":"Market volatility","value":0.162},{"date":"2026-03-09","series":"Market volatility","value":0.14},{"date":"2026-03-14","series":"Market volatility","value":0.12},{"date":"2026-03-18","series":"Market volatility","value":0.184},{"date":"2026-03-23","series":"Market volatility","value":0.184},{"date":"2026-04-01","series":"Market volatility","value":0.173},{"date":"2026-04-08","series":"Market volatility","value":0.206},{"date":"2026-04-16","series":"Market volatility","value":0.184},{"date":"2026-04-23","series":"Market volatility","value":0.184},{"date":"2026-05-01","series":"Market volatility","value":0.206},{"date":"2026-05-06","series":"Market volatility","value":0.238},{"date":"2026-05-10","series":"Market volatility","value":0.28},{"date":"2026-05-16","series":"Market volatility","value":0.28},
      {"date":"2025-06-01","series":"Equity","value":0.465},{"date":"2025-06-07","series":"Equity","value":0.487},{"date":"2025-06-11","series":"Equity","value":0.51},{"date":"2025-06-13","series":"Equity","value":0.563},{"date":"2025-06-16","series":"Equity","value":0.357},{"date":"2025-06-20","series":"Equity","value":0.27},{"date":"2025-06-26","series":"Equity","value":0.28},{"date":"2025-07-01","series":"Equity","value":0.29},{"date":"2025-07-04","series":"Equity","value":0.465},{"date":"2025-07-11","series":"Equity","value":0.53},{"date":"2025-07-17","series":"Equity","value":0.574},{"date":"2025-07-25","series":"Equity","value":0.617},{"date":"2025-07-31","series":"Equity","value":0.595},{"date":"2025-08-07","series":"Equity","value":0.563},{"date":"2025-08-14","series":"Equity","value":0.584},{"date":"2025-08-22","series":"Equity","value":0.584},{"date":"2025-08-29","series":"Equity","value":0.638},{"date":"2025-09-02","series":"Equity","value":0.606},{"date":"2025-09-10","series":"Equity","value":0.628},{"date":"2025-09-17","series":"Equity","value":0.617},{"date":"2025-09-25","series":"Equity","value":0.584},{"date":"2025-09-30","series":"Equity","value":0.563},{"date":"2025-10-03","series":"Equity","value":0.433},{"date":"2025-10-08","series":"Equity","value":0.41},{"date":"2025-10-15","series":"Equity","value":0.39},{"date":"2025-10-21","series":"Equity","value":0.335},{"date":"2025-10-27","series":"Equity","value":0.357},{"date":"2025-11-02","series":"Equity","value":0.314},{"date":"2025-11-07","series":"Equity","value":0.368},{"date":"2025-11-13","series":"Equity","value":0.38},{"date":"2025-11-20","series":"Equity","value":0.335},{"date":"2025-11-29","series":"Equity","value":0.325},{"date":"2025-12-08","series":"Equity","value":0.325},{"date":"2025-12-14","series":"Equity","value":0.346},{"date":"2025-12-20","series":"Equity","value":0.28},{"date":"2025-12-28","series":"Equity","value":0.25},{"date":"2025-12-31","series":"Equity","value":0.30},{"date":"2026-01-04","series":"Equity","value":0.357},{"date":"2026-01-10","series":"Equity","value":0.40},{"date":"2026-01-16","series":"Equity","value":0.335},{"date":"2026-01-21","series":"Equity","value":0.40},{"date":"2026-01-25","series":"Equity","value":0.50},{"date":"2026-01-31","series":"Equity","value":0.476},{"date":"2026-02-05","series":"Equity","value":0.433},{"date":"2026-02-11","series":"Equity","value":0.314},{"date":"2026-02-17","series":"Equity","value":0.27},{"date":"2026-02-25","series":"Equity","value":0.195},{"date":"2026-03-03","series":"Equity","value":0.238},{"date":"2026-03-09","series":"Equity","value":0.27},{"date":"2026-03-14","series":"Equity","value":0.25},{"date":"2026-03-18","series":"Equity","value":0.38},{"date":"2026-03-23","series":"Equity","value":0.40},{"date":"2026-04-01","series":"Equity","value":0.41},{"date":"2026-04-08","series":"Equity","value":0.40},{"date":"2026-04-13","series":"Equity","value":0.357},{"date":"2026-04-21","series":"Equity","value":0.39},{"date":"2026-04-27","series":"Equity","value":0.41},{"date":"2026-05-02","series":"Equity","value":0.38},{"date":"2026-05-08","series":"Equity","value":0.41},{"date":"2026-05-12","series":"Equity","value":0.40},{"date":"2026-05-16","series":"Equity","value":0.38},
      {"date":"2025-06-01","series":"Broad USD trend","value":0.632},{"date":"2025-06-07","series":"Broad USD trend","value":0.65},{"date":"2025-06-11","series":"Broad USD trend","value":0.68},{"date":"2025-06-14","series":"Broad USD trend","value":0.753},{"date":"2025-06-18","series":"Broad USD trend","value":0.628},{"date":"2025-06-26","series":"Broad USD trend","value":0.632},{"date":"2025-07-01","series":"Broad USD trend","value":0.66},{"date":"2025-07-05","series":"Broad USD trend","value":0.768},{"date":"2025-07-11","series":"Broad USD trend","value":0.79},{"date":"2025-07-15","series":"Broad USD trend","value":0.807},{"date":"2025-07-23","series":"Broad USD trend","value":0.786},{"date":"2025-07-31","series":"Broad USD trend","value":0.78},{"date":"2025-08-11","series":"Broad USD trend","value":0.773},{"date":"2025-08-18","series":"Broad USD trend","value":0.78},{"date":"2025-08-26","series":"Broad USD trend","value":0.794},{"date":"2025-08-31","series":"Broad USD trend","value":0.78},{"date":"2025-09-06","series":"Broad USD trend","value":0.855},{"date":"2025-09-14","series":"Broad USD trend","value":0.86},{"date":"2025-09-25","series":"Broad USD trend","value":0.855},{"date":"2025-09-30","series":"Broad USD trend","value":0.833},{"date":"2025-10-03","series":"Broad USD trend","value":0.671},{"date":"2025-10-08","series":"Broad USD trend","value":0.62},{"date":"2025-10-15","series":"Broad USD trend","value":0.66},{"date":"2025-10-19","series":"Broad USD trend","value":0.73},{"date":"2025-10-25","series":"Broad USD trend","value":0.725},{"date":"2025-10-31","series":"Broad USD trend","value":0.693},{"date":"2025-11-05","series":"Broad USD trend","value":0.714},{"date":"2025-11-13","series":"Broad USD trend","value":0.72},{"date":"2025-11-20","series":"Broad USD trend","value":0.70},{"date":"2025-11-29","series":"Broad USD trend","value":0.686},{"date":"2025-12-06","series":"Broad USD trend","value":0.70},{"date":"2025-12-12","series":"Broad USD trend","value":0.714},{"date":"2025-12-16","series":"Broad USD trend","value":0.686},{"date":"2025-12-22","series":"Broad USD trend","value":0.677},{"date":"2025-12-28","series":"Broad USD trend","value":0.638},{"date":"2025-12-31","series":"Broad USD trend","value":0.79},{"date":"2026-01-03","series":"Broad USD trend","value":0.855},{"date":"2026-01-06","series":"Broad USD trend","value":0.855},{"date":"2026-01-11","series":"Broad USD trend","value":0.87},{"date":"2026-01-16","series":"Broad USD trend","value":0.81},{"date":"2026-01-21","series":"Broad USD trend","value":0.78},{"date":"2026-01-27","series":"Broad USD trend","value":0.80},{"date":"2026-02-04","series":"Broad USD trend","value":0.807},{"date":"2026-02-11","series":"Broad USD trend","value":0.80},{"date":"2026-02-19","series":"Broad USD trend","value":0.816},{"date":"2026-02-27","series":"Broad USD trend","value":0.80},{"date":"2026-03-07","series":"Broad USD trend","value":0.80},{"date":"2026-03-14","series":"Broad USD trend","value":0.816},{"date":"2026-03-23","series":"Broad USD trend","value":0.833},{"date":"2026-03-29","series":"Broad USD trend","value":0.81},{"date":"2026-04-02","series":"Broad USD trend","value":0.747},{"date":"2026-04-10","series":"Broad USD trend","value":0.73},{"date":"2026-04-13","series":"Broad USD trend","value":0.725},{"date":"2026-04-21","series":"Broad USD trend","value":0.79},{"date":"2026-04-29","series":"Broad USD trend","value":0.78},{"date":"2026-05-06","series":"Broad USD trend","value":0.768},{"date":"2026-05-12","series":"Broad USD trend","value":0.80},{"date":"2026-05-16","series":"Broad USD trend","value":0.786}
    ],
    "dxy_spot": [
      {"date":"2026-01-01","value":98.37},{"date":"2026-01-02","value":98.43},{"date":"2026-01-04","value":98.37},{"date":"2026-01-05","value":98.29},{"date":"2026-01-07","value":98.60},{"date":"2026-01-08","value":98.68},{"date":"2026-01-09","value":99.15},{"date":"2026-01-11","value":99.05},{"date":"2026-01-12","value":98.89},{"date":"2026-01-13","value":99.09},{"date":"2026-01-15","value":99.17},{"date":"2026-01-16","value":99.38},{"date":"2026-01-20","value":99.40},{"date":"2026-01-21","value":98.76},{"date":"2026-01-22","value":98.64},{"date":"2026-01-23","value":97.61},{"date":"2026-01-26","value":97.04},{"date":"2026-01-27","value":96.22},{"date":"2026-01-28","value":96.34},{"date":"2026-01-30","value":96.30},{"date":"2026-01-31","value":97.04},{"date":"2026-02-01","value":97.41},{"date":"2026-02-03","value":97.66},{"date":"2026-02-04","value":97.45},{"date":"2026-02-05","value":97.82},{"date":"2026-02-07","value":97.53},{"date":"2026-02-09","value":96.81},{"date":"2026-02-12","value":96.92},{"date":"2026-02-16","value":96.92},{"date":"2026-02-17","value":97.37},{"date":"2026-02-19","value":97.94},{"date":"2026-02-20","value":97.82},{"date":"2026-02-22","value":97.82},{"date":"2026-02-23","value":97.86},{"date":"2026-02-24","value":97.74},{"date":"2026-02-26","value":97.82},{"date":"2026-02-27","value":97.61},{"date":"2026-03-01","value":98.02},{"date":"2026-03-02","value":98.52},{"date":"2026-03-03","value":99.05},{"date":"2026-03-04","value":98.84},{"date":"2026-03-05","value":99.34},{"date":"2026-03-06","value":99.05},{"date":"2026-03-08","value":99.09},{"date":"2026-03-10","value":99.17},{"date":"2026-03-11","value":99.01},{"date":"2026-03-13","value":99.75},{"date":"2026-03-14","value":100.36},{"date":"2026-03-15","value":100.07},{"date":"2026-03-17","value":99.66},{"date":"2026-03-18","value":100.11},{"date":"2026-03-19","value":99.30},{"date":"2026-03-20","value":99.66},{"date":"2026-03-21","value":99.46},{"date":"2026-03-22","value":99.21},{"date":"2026-03-24","value":98.97},{"date":"2026-03-25","value":99.58},{"date":"2026-03-27","value":100.11},{"date":"2026-03-29","value":100.32},{"date":"2026-03-30","value":100.52},{"date":"2026-03-31","value":99.91},{"date":"2026-04-01","value":99.66},{"date":"2026-04-02","value":100.06},{"date":"2026-04-05","value":100.06},{"date":"2026-04-07","value":99.99},{"date":"2026-04-08","value":99.17},{"date":"2026-04-10","value":98.60},{"date":"2026-04-12","value":98.43},{"date":"2026-04-13","value":98.11},{"date":"2026-04-15","value":98.19},{"date":"2026-04-17","value":98.11},{"date":"2026-04-19","value":98.11},{"date":"2026-04-21","value":98.68},{"date":"2026-04-23","value":98.76},{"date":"2026-04-24","value":98.56},{"date":"2026-04-26","value":98.52},{"date":"2026-04-28","value":98.68},{"date":"2026-04-29","value":98.97},{"date":"2026-04-30","value":98.07},{"date":"2026-05-01","value":98.19},{"date":"2026-05-03","value":98.31},{"date":"2026-05-04","value":98.45},{"date":"2026-05-05","value":98.07},{"date":"2026-05-07","value":97.90},{"date":"2026-05-09","value":97.94},{"date":"2026-05-11","value":98.02},{"date":"2026-05-13","value":98.68},{"date":"2026-05-14","value":99.28},{"date":"2026-05-16","value":99.25},{"date":"2026-05-19","value":99.13},{"date":"2026-05-21","value":99.17},{"date":"2026-05-24","value":99.09},{"date":"2026-05-28","value":98.93},{"date":"2026-05-30","value":99.17},{"date":"2026-06-01","value":99.50},{"date":"2026-06-04","value":100.07},{"date":"2026-06-07","value":100.03},{"date":"2026-06-09","value":99.91},{"date":"2026-06-11","value":99.87},{"date":"2026-06-12","value":99.747}
    ],
    "eur_spot": [
      {"date":"2026-01-01","value":1.1747},{"date":"2026-01-02","value":1.1724},{"date":"2026-01-05","value":1.1724},{"date":"2026-01-07","value":1.1689},{"date":"2026-01-09","value":1.1638},{"date":"2026-01-11","value":1.1649},{"date":"2026-01-12","value":1.1666},{"date":"2026-01-14","value":1.1643},{"date":"2026-01-15","value":1.1643},{"date":"2026-01-16","value":1.1597},{"date":"2026-01-18","value":1.1632},{"date":"2026-01-19","value":1.1643},{"date":"2026-01-20","value":1.1724},{"date":"2026-01-21","value":1.1689},{"date":"2026-01-22","value":1.1735},{"date":"2026-01-23","value":1.1827},{"date":"2026-01-25","value":1.1873},{"date":"2026-01-26","value":1.1884},{"date":"2026-01-27","value":1.2045},{"date":"2026-01-28","value":1.1953},{"date":"2026-01-29","value":1.1976},{"date":"2026-01-30","value":1.1850},{"date":"2026-02-01","value":1.1816},{"date":"2026-02-02","value":1.1799},{"date":"2026-02-03","value":1.1816},{"date":"2026-02-04","value":1.1787},{"date":"2026-02-06","value":1.1856},{"date":"2026-02-09","value":1.1913},{"date":"2026-02-10","value":1.1873},{"date":"2026-02-12","value":1.1873},{"date":"2026-02-15","value":1.1861},{"date":"2026-02-17","value":1.1856},{"date":"2026-02-18","value":1.1781},{"date":"2026-02-20","value":1.1787},{"date":"2026-02-23","value":1.1787},{"date":"2026-02-24","value":1.1775},{"date":"2026-02-25","value":1.1810},{"date":"2026-02-26","value":1.1804},{"date":"2026-02-27","value":1.1813},{"date":"2026-02-28","value":1.1758},{"date":"2026-03-01","value":1.1689},{"date":"2026-03-03","value":1.1615},{"date":"2026-03-04","value":1.1638},{"date":"2026-03-06","value":1.1615},{"date":"2026-03-08","value":1.1632},{"date":"2026-03-09","value":1.1638},{"date":"2026-03-11","value":1.1597},{"date":"2026-03-12","value":1.1420},{"date":"2026-03-15","value":1.1483},{"date":"2026-03-16","value":1.1540},{"date":"2026-03-18","value":1.1454},{"date":"2026-03-19","value":1.1586},{"date":"2026-03-20","value":1.1574},{"date":"2026-03-22","value":1.1597},{"date":"2026-03-23","value":1.1611},{"date":"2026-03-24","value":1.1580},{"date":"2026-03-26","value":1.1534},{"date":"2026-03-28","value":1.1500},{"date":"2026-03-29","value":1.1469},{"date":"2026-03-31","value":1.1529},{"date":"2026-04-01","value":1.1586},{"date":"2026-04-03","value":1.1523},{"date":"2026-04-05","value":1.1534},{"date":"2026-04-07","value":1.1546},{"date":"2026-04-08","value":1.1643},{"date":"2026-04-10","value":1.1706},{"date":"2026-04-12","value":1.1735},{"date":"2026-04-13","value":1.1770},{"date":"2026-04-15","value":1.1799},{"date":"2026-04-17","value":1.1770},{"date":"2026-04-19","value":1.1781},{"date":"2026-04-20","value":1.1787},{"date":"2026-04-21","value":1.1718},{"date":"2026-04-23","value":1.1683},{"date":"2026-04-24","value":1.1724},{"date":"2026-04-27","value":1.1724},{"date":"2026-04-28","value":1.1678},{"date":"2026-04-30","value":1.1729},{"date":"2026-05-02","value":1.1695},{"date":"2026-05-04","value":1.1689},{"date":"2026-05-05","value":1.1747},{"date":"2026-05-06","value":1.1729},{"date":"2026-05-08","value":1.1787},{"date":"2026-05-10","value":1.1781},{"date":"2026-05-11","value":1.1735},{"date":"2026-05-13","value":1.1678},{"date":"2026-05-15","value":1.1626},{"date":"2026-05-16","value":1.1632},{"date":"2026-05-18","value":1.1655},{"date":"2026-05-19","value":1.1609},{"date":"2026-05-22","value":1.1609},{"date":"2026-05-24","value":1.1626},{"date":"2026-05-27","value":1.1626},{"date":"2026-05-29","value":1.1643},{"date":"2026-06-01","value":1.1638},{"date":"2026-06-03","value":1.1615},{"date":"2026-06-05","value":1.1580},{"date":"2026-06-07","value":1.1540},{"date":"2026-06-08","value":1.1546},{"date":"2026-06-10","value":1.1563},{"date":"2026-06-12","value":1.1568}
    ],
    "gbp_spot": [
      {"date":"2026-01-01","value":1.3454},{"date":"2026-01-02","value":1.3457},{"date":"2026-01-03","value":1.3487},{"date":"2026-01-05","value":1.3539},{"date":"2026-01-07","value":1.3467},{"date":"2026-01-09","value":1.3404},{"date":"2026-01-10","value":1.3421},{"date":"2026-01-12","value":1.3448},{"date":"2026-01-13","value":1.3461},{"date":"2026-01-14","value":1.3428},{"date":"2026-01-15","value":1.3441},{"date":"2026-01-16","value":1.3382},{"date":"2026-01-17","value":1.3382},{"date":"2026-01-19","value":1.3408},{"date":"2026-01-20","value":1.3428},{"date":"2026-01-22","value":1.3421},{"date":"2026-01-23","value":1.3533},{"date":"2026-01-24","value":1.3644},{"date":"2026-01-25","value":1.3657},{"date":"2026-01-26","value":1.3677},{"date":"2026-01-27","value":1.3848},{"date":"2026-01-28","value":1.3808},{"date":"2026-01-29","value":1.3802},{"date":"2026-01-30","value":1.3684},{"date":"2026-02-01","value":1.3677},{"date":"2026-02-02","value":1.3664},{"date":"2026-02-03","value":1.3693},{"date":"2026-02-04","value":1.3677},{"date":"2026-02-05","value":1.3572},{"date":"2026-02-06","value":1.3612},{"date":"2026-02-08","value":1.3644},{"date":"2026-02-09","value":1.3688},{"date":"2026-02-10","value":1.3638},{"date":"2026-02-12","value":1.3625},{"date":"2026-02-13","value":1.3644},{"date":"2026-02-15","value":1.3638},{"date":"2026-02-17","value":1.3526},{"date":"2026-02-19","value":1.3467},{"date":"2026-02-21","value":1.3487},{"date":"2026-02-23","value":1.3493},{"date":"2026-02-25","value":1.3559},{"date":"2026-02-26","value":1.3493},{"date":"2026-02-27","value":1.3474},{"date":"2026-03-01","value":1.3428},{"date":"2026-03-03","value":1.3362},{"date":"2026-03-04","value":1.3375},{"date":"2026-03-05","value":1.3415},{"date":"2026-03-07","value":1.3434},{"date":"2026-03-09","value":1.3428},{"date":"2026-03-11","value":1.3402},{"date":"2026-03-13","value":1.3238},{"date":"2026-03-14","value":1.3270},{"date":"2026-03-16","value":1.3316},{"date":"2026-03-17","value":1.3356},{"date":"2026-03-18","value":1.3257},{"date":"2026-03-19","value":1.3434},{"date":"2026-03-20","value":1.3375},{"date":"2026-03-21","value":1.3402},{"date":"2026-03-23","value":1.3428},{"date":"2026-03-25","value":1.3389},{"date":"2026-03-27","value":1.3257},{"date":"2026-03-29","value":1.3218},{"date":"2026-03-30","value":1.3185},{"date":"2026-04-01","value":1.3303},{"date":"2026-04-02","value":1.3218},{"date":"2026-04-03","value":1.3205},{"date":"2026-04-04","value":1.3225},{"date":"2026-04-06","value":1.3244},{"date":"2026-04-08","value":1.3375},{"date":"2026-04-10","value":1.3467},{"date":"2026-04-12","value":1.3493},{"date":"2026-04-14","value":1.3566},{"date":"2026-04-15","value":1.3533},{"date":"2026-04-17","value":1.3520},{"date":"2026-04-18","value":1.3526},{"date":"2026-04-20","value":1.3533},{"date":"2026-04-21","value":1.3507},{"date":"2026-04-22","value":1.3467},{"date":"2026-04-23","value":1.3526},{"date":"2026-04-25","value":1.3533},{"date":"2026-04-27","value":1.3535},{"date":"2026-04-28","value":1.3474},{"date":"2026-04-29","value":1.3598},{"date":"2026-05-01","value":1.3579},{"date":"2026-05-03","value":1.3539},{"date":"2026-05-04","value":1.3533},{"date":"2026-05-05","value":1.3585},{"date":"2026-05-06","value":1.3559},{"date":"2026-05-08","value":1.3631},{"date":"2026-05-10","value":1.3618},{"date":"2026-05-11","value":1.3612},{"date":"2026-05-12","value":1.3533},{"date":"2026-05-13","value":1.3520},{"date":"2026-05-15","value":1.3326},{"date":"2026-05-17","value":1.3421},{"date":"2026-05-20","value":1.3434},{"date":"2026-05-22","value":1.3448},{"date":"2026-05-24","value":1.3500},{"date":"2026-05-26","value":1.3428},{"date":"2026-05-28","value":1.3461},{"date":"2026-06-01","value":1.3461},{"date":"2026-06-02","value":1.3428},{"date":"2026-06-04","value":1.3343},{"date":"2026-06-07","value":1.3343},{"date":"2026-06-09","value":1.3389},{"date":"2026-06-11","value":1.3415},{"date":"2026-06-12","value":1.3406}
    ],
    "dxy_paths": [
      {"date":"2026-05-15","lower":99.29,"upper":99.29},{"date":"2026-05-22","lower":99.24,"upper":99.60},{"date":"2026-05-29","lower":98.89,"upper":99.35},{"date":"2026-06-05","lower":99.17,"upper":99.73},{"date":"2026-06-12","lower":99.0097,"upper":99.7454}
    ],
    "eur_paths": [
      {"date":"2026-05-15","lower":1.1626,"upper":1.1626},{"date":"2026-05-22","lower":1.1608,"upper":1.1632},{"date":"2026-05-29","lower":1.1668,"upper":1.1683},{"date":"2026-06-05","lower":1.1512,"upper":1.1550},{"date":"2026-06-12","lower":1.1577,"upper":1.1627}
    ],
    "gbp_paths": [
      {"date":"2026-05-15","lower":1.3326,"upper":1.3326},{"date":"2026-05-22","lower":1.3237,"upper":1.3310},{"date":"2026-05-29","lower":1.3356,"upper":1.3385},{"date":"2026-06-05","lower":1.3155,"upper":1.3238},{"date":"2026-06-12","lower":1.3187,"upper":1.3273}
    ]
  },
  "resolve": {"scale": {"color": "independent"}, "legend": {"color": "independent"}},
  "spacing": 68,
  "vconcat": [
    {
      "resolve": {"scale": {"color": "independent"}, "legend": {"color": "independent"}},
      "spacing": 35,
      "hconcat": [
        {
          "title": {"text": "1. Short-term driver importance – DXY", "anchor": "start", "frame": "bounds", "fontSize": 15, "fontWeight": "bold", "offset": 10},
          "bounds": "flush",
          "spacing": 0,
          "resolve": {"scale": {"color": "independent"}, "legend": {"color": "independent"}},
          "vconcat": [
            {"width": 1, "height": 7, "data": {"values": []}, "mark": "point"},
            {
              "title": {"text": "Source: Bloomberg, HSBC", "orient": "bottom", "anchor": "start", "frame": "bounds", "fontSize": 8, "offset": 8},
              "bounds": "flush",
              "resolve": {"scale": {"color": "independent"}, "legend": {"color": "independent"}},
              "vconcat": [{
                "title": {"text": "3m rolling R-squared scores by category of drivers", "anchor": "middle", "frame": "group", "fontSize": 11, "offset": -5},
                "width": 304, "height": 159,
                "data": {"name": "dxy_drivers"},
                "mark": {"type": "line", "strokeWidth": 1.4},
                "encoding": {
                  "x": {"field": "date", "type": "temporal", "title": null,
                    "scale": {"type": "utc", "domain": [{"year": 2025, "month": 6, "date": 1, "utc": true}, {"year": 2026, "month": 5, "date": 16, "utc": true}]},
                    "axis": {"values": [{"year": 2025, "month": 6, "date": 1, "utc": true}, {"year": 2025, "month": 8, "date": 1, "utc": true}, {"year": 2025, "month": 10, "date": 1, "utc": true}, {"year": 2025, "month": 12, "date": 1, "utc": true}, {"year": 2026, "month": 2, "date": 1, "utc": true}, {"year": 2026, "month": 4, "date": 1, "utc": true}], "format": "%b-%y", "labelFlush": false, "grid": false, "tickSize": 3, "labelPadding": 4}},
                  "y": {"field": "value", "type": "quantitative", "title": null,
                    "scale": {"domain": [0, 0.7], "nice": false},
                    "axis": {"values": [0, 0.1, 0.2, 0.3, 0.4, 0.5, 0.6, 0.7], "tickCount": 10, "format": ".1f", "tickSize": 5, "labelPadding": 6, "grid": true}},
                  "color": {"field": "series", "type": "nominal",
                    "scale": {"domain": ["Rate differential", "Equity", "Market volatility", "Commodity"], "range": ["#bfbfbf", "#000000", "#7f7f7f", "#f8c3a9"]},
                    "legend": {"orient": "bottom", "direction": "horizontal", "columns": 2, "title": null, "columnPadding": 59, "rowPadding": 0, "clipHeight": 18, "offset": 10}}
                }
              }]
            }
          ]
        },
        {
          "title": {"text": "2. Spot rate versus modelled paths – DXY", "anchor": "start", "frame": "bounds", "fontSize": 15, "fontWeight": "bold", "offset": 10, "dx": -5},
          "bounds": "flush",
          "vconcat": [{
            "title": {"text": "Source: Bloomberg, HSBC", "orient": "bottom", "anchor": "start", "frame": "bounds", "fontSize": 8, "offset": 12, "dx": -5},
            "bounds": "flush",
            "vconcat": [{
              "title": {"text": "DXY spot rate vs modelled paths", "anchor": "middle", "frame": "group", "fontSize": 11, "offset": -16},
              "width": 289, "height": 203,
              "layer": [
                {
                  "data": {"name": "dxy_spot"},
                  "mark": {"type": "line", "color": "#d7001a", "strokeWidth": 2},
                  "encoding": {
                    "x": {"field": "date", "type": "temporal", "title": null,
                      "scale": {"type": "utc", "domain": [{"year": 2026, "month": 1, "date": 1, "utc": true}, {"year": 2026, "month": 6, "date": 12, "utc": true}]},
                      "axis": {"values": [{"year": 2026, "month": 1, "date": 1, "utc": true}, {"year": 2026, "month": 2, "date": 1, "utc": true}, {"year": 2026, "month": 3, "date": 1, "utc": true}, {"year": 2026, "month": 4, "date": 1, "utc": true}, {"year": 2026, "month": 5, "date": 1, "utc": true}, {"year": 2026, "month": 6, "date": 1, "utc": true}], "format": "%b-%y", "labelFlush": false, "grid": false, "tickSize": 5, "labelPadding": 6}},
                    "y": {"field": "value", "type": "quantitative", "title": null,
                      "scale": {"domain": [96, 101], "nice": false},
                      "axis": {"values": [96, 97, 98, 99, 100, 101], "tickCount": 10, "format": "d", "tickSize": 6, "labelPadding": 4, "grid": true}}
                  }
                },
                {
                  "data": {"name": "dxy_paths"},
                  "mark": {"type": "area", "color": "#cfcfcf", "opacity": 0.8},
                  "encoding": {
                    "x": {"field": "date", "type": "temporal", "title": null},
                    "y": {"field": "lower", "type": "quantitative", "title": null},
                    "y2": {"field": "upper"}
                  }
                },
                {
                  "data": {"name": "dxy_paths"},
                  "mark": {"type": "line", "color": "#111111", "strokeWidth": 1.5},
                  "encoding": {
                    "x": {"field": "date", "type": "temporal", "title": null},
                    "y": {"field": "upper", "type": "quantitative", "title": null}
                  }
                },
                {
                  "data": {"name": "dxy_paths"},
                  "mark": {"type": "line", "color": "#111111", "strokeWidth": 1.5},
                  "encoding": {
                    "x": {"field": "date", "type": "temporal", "title": null},
                    "y": {"field": "lower", "type": "quantitative", "title": null}
                  }
                },
                {
                  "data": {"values": [{}]},
                  "mark": {"type": "text", "align": "left", "baseline": "middle", "fontSize": 11, "lineHeight": 15, "color": "#000",
                    "text": ["actual (12 Jun): 99.747", "range: 99.0097 - 99.7454", "median: 99.5736"]},
                  "encoding": {
                    "x": {"datum": {"year": 2026, "month": 4, "date": 3, "utc": true}, "type": "temporal"},
                    "y": {"datum": 96.943}
                  }
                }
              ]
            }]
          }]
        }
      ]
    },
    {
      "resolve": {"scale": {"color": "independent"}, "legend": {"color": "independent"}},
      "spacing": 53,
      "vconcat": [
        {
          "resolve": {"scale": {"color": "independent"}, "legend": {"color": "independent"}},
          "spacing": 31,
          "hconcat": [
            {
              "title": {"text": "3. Short-term driver importance – EUR", "anchor": "start", "frame": "bounds", "fontSize": 15, "fontWeight": "bold", "offset": 10},
              "bounds": "flush",
              "spacing": 0,
              "resolve": {"scale": {"color": "independent"}, "legend": {"color": "independent"}},
              "vconcat": [
                {"width": 1, "height": 8, "data": {"values": []}, "mark": "point"},
                {
                  "title": {"text": "Source: Bloomberg, HSBC", "orient": "bottom", "anchor": "start", "frame": "bounds", "fontSize": 8, "offset": 9},
                  "bounds": "flush",
                  "resolve": {"scale": {"color": "independent"}, "legend": {"color": "independent"}},
                  "vconcat": [{
                    "title": {"text": "3m rolling R-squared scores by category of drivers", "anchor": "middle", "frame": "group", "fontSize": 11, "offset": -5},
                    "width": 308, "height": 153,
                    "data": {"name": "eur_drivers"},
                    "mark": {"type": "line", "strokeWidth": 1.4},
                    "encoding": {
                      "x": {"field": "date", "type": "temporal", "title": null,
                        "scale": {"type": "utc", "domain": [{"year": 2025, "month": 6, "date": 1, "utc": true}, {"year": 2026, "month": 5, "date": 16, "utc": true}]},
                        "axis": {"values": [{"year": 2025, "month": 6, "date": 1, "utc": true}, {"year": 2025, "month": 8, "date": 1, "utc": true}, {"year": 2025, "month": 10, "date": 1, "utc": true}, {"year": 2025, "month": 12, "date": 1, "utc": true}, {"year": 2026, "month": 2, "date": 1, "utc": true}, {"year": 2026, "month": 4, "date": 1, "utc": true}], "format": "%b-%y", "labelFlush": false, "grid": false, "tickSize": 3, "labelPadding": 7}},
                      "y": {"field": "value", "type": "quantitative", "title": null,
                        "scale": {"domain": [0, 1], "nice": false},
                        "axis": {"values": [0, 0.2, 0.4, 0.6, 0.8, 1.0], "tickCount": 10, "format": ".1f", "tickSize": 5, "labelPadding": 6, "grid": true}},
                      "color": {"field": "series", "type": "nominal",
                        "scale": {"domain": ["Broad USD trend", "Rate differential", "Equity", "Market volatility", "Commodity"], "range": ["#d7001a", "#bfbfbf", "#1a1a1a", "#7f7f7f", "#f8c3a9"]},
                        "legend": {"orient": "bottom", "direction": "horizontal", "columns": 2, "title": null, "columnPadding": 49, "rowPadding": 0, "clipHeight": 14, "offset": 5}}
                    }
                  }]
                }
              ]
            },
            {
              "title": {"text": "4. Spot rate versus modelled paths – EUR", "anchor": "start", "frame": "bounds", "fontSize": 15, "fontWeight": "bold", "offset": 10, "dx": -3},
              "bounds": "flush",
              "vconcat": [{
                "title": {"text": "Source: Bloomberg, HSBC", "orient": "bottom", "anchor": "start", "frame": "bounds", "fontSize": 8, "offset": 12, "dx": -3},
                "bounds": "flush",
                "vconcat": [{
                  "title": {"text": "EUR-USD spot rate vs modelled paths", "anchor": "middle", "frame": "group", "fontSize": 11, "offset": -16},
                  "width": 293, "height": 203,
                  "layer": [
                    {
                      "data": {"name": "eur_spot"},
                      "mark": {"type": "line", "color": "#d7001a", "strokeWidth": 2},
                      "encoding": {
                        "x": {"field": "date", "type": "temporal", "title": null,
                          "scale": {"type": "utc", "domain": [{"year": 2026, "month": 1, "date": 1, "utc": true}, {"year": 2026, "month": 6, "date": 12, "utc": true}]},
                          "axis": {"values": [{"year": 2026, "month": 1, "date": 1, "utc": true}, {"year": 2026, "month": 2, "date": 1, "utc": true}, {"year": 2026, "month": 3, "date": 1, "utc": true}, {"year": 2026, "month": 4, "date": 1, "utc": true}, {"year": 2026, "month": 5, "date": 1, "utc": true}, {"year": 2026, "month": 6, "date": 1, "utc": true}], "format": "%b-%y", "labelFlush": true, "labelFlushOffset": 4, "grid": false, "tickSize": 5, "labelPadding": 5}},
                        "y": {"field": "value", "type": "quantitative", "title": null,
                          "scale": {"domain": [1.14, 1.21], "nice": false},
                          "axis": {"values": [1.14, 1.15, 1.16, 1.17, 1.18, 1.19, 1.20, 1.21], "tickCount": 10, "format": ".2f", "tickSize": 6, "labelPadding": 4, "grid": true}}
                      }
                    },
                    {
                      "data": {"name": "eur_paths"},
                      "mark": {"type": "area", "color": "#bdbdbd", "opacity": 0.85},
                      "encoding": {
                        "x": {"field": "date", "type": "temporal", "title": null},
                        "y": {"field": "lower", "type": "quantitative", "title": null},
                        "y2": {"field": "upper"}
                      }
                    },
                    {
                      "data": {"name": "eur_paths"},
                      "mark": {"type": "line", "color": "#111111", "strokeWidth": 1.5},
                      "encoding": {
                        "x": {"field": "date", "type": "temporal", "title": null},
                        "y": {"field": "upper", "type": "quantitative", "title": null}
                      }
                    },
                    {
                      "data": {"name": "eur_paths"},
                      "mark": {"type": "line", "color": "#111111", "strokeWidth": 1.5},
                      "encoding": {
                        "x": {"field": "date", "type": "temporal", "title": null},
                        "y": {"field": "lower", "type": "quantitative", "title": null}
                      }
                    },
                    {
                      "data": {"values": [{}]},
                      "mark": {"type": "text", "align": "left", "baseline": "middle", "fontSize": 11, "lineHeight": 15, "color": "#000",
                        "text": ["actual (12 Jun): 1.1568", "range: 1.1577 - 1.1627", "median: 1.1600"]},
                      "encoding": {
                        "x": {"datum": {"year": 2026, "month": 1, "date": 6, "utc": true}, "type": "temporal"},
                        "y": {"datum": 1.1532}
                      }
                    }
                  ]
                }]
              }]
            }
          ]
        },
        {
          "resolve": {"scale": {"color": "independent"}, "legend": {"color": "independent"}},
          "spacing": 34,
          "hconcat": [
            {
              "title": {"text": "5. Short-term driver importance – GBP", "anchor": "start", "frame": "bounds", "fontSize": 15, "fontWeight": "bold", "offset": 7},
              "bounds": "flush",
              "spacing": 0,
              "resolve": {"scale": {"color": "independent"}, "legend": {"color": "independent"}},
              "vconcat": [
                {"width": 1, "height": 8, "data": {"values": []}, "mark": "point"},
                {
                  "title": {"text": "Source: Bloomberg, HSBC", "orient": "bottom", "anchor": "start", "frame": "bounds", "fontSize": 8, "offset": 10},
                  "bounds": "flush",
                  "resolve": {"scale": {"color": "independent"}, "legend": {"color": "independent"}},
                  "vconcat": [{
                    "title": {"text": "3m rolling R-squared scores by category of drivers", "anchor": "middle", "frame": "group", "fontSize": 11, "offset": -5},
                    "width": 305, "height": 154,
                    "data": {"name": "gbp_drivers"},
                    "mark": {"type": "line", "strokeWidth": 1.4},
                    "encoding": {
                      "x": {"field": "date", "type": "temporal", "title": null,
                        "scale": {"type": "utc", "domain": [{"year": 2025, "month": 6, "date": 1, "utc": true}, {"year": 2026, "month": 5, "date": 16, "utc": true}]},
                        "axis": {"values": [{"year": 2025, "month": 6, "date": 1, "utc": true}, {"year": 2025, "month": 8, "date": 1, "utc": true}, {"year": 2025, "month": 10, "date": 1, "utc": true}, {"year": 2025, "month": 12, "date": 1, "utc": true}, {"year": 2026, "month": 2, "date": 1, "utc": true}, {"year": 2026, "month": 4, "date": 1, "utc": true}], "format": "%b-%y", "labelFlush": false, "grid": false, "tickSize": 3, "labelPadding": 5}},
                      "y": {"field": "value", "type": "quantitative", "title": null,
                        "scale": {"domain": [0, 1], "nice": false},
                        "axis": {"values": [0, 0.2, 0.4, 0.6, 0.8, 1.0], "tickCount": 10, "format": ".1f", "tickSize": 5, "labelPadding": 6, "grid": true}},
                      "color": {"field": "series", "type": "nominal",
                        "scale": {"domain": ["Broad USD trend", "Rate differential", "Equity", "Market volatility", "Commodity"], "range": ["#d7001a", "#bfbfbf", "#1a1a1a", "#7f7f7f", "#f8c3a9"]},
                        "legend": {"orient": "bottom", "direction": "horizontal", "columns": 2, "title": null, "columnPadding": 52, "rowPadding": 0, "clipHeight": 14, "offset": 7}}
                    }
                  }]
                }
              ]
            },
            {
              "title": {"text": "6. Spot rate versus modelled paths – GBP", "anchor": "start", "frame": "bounds", "fontSize": 15, "fontWeight": "bold", "offset": 7, "dx": -3},
              "bounds": "flush",
              "vconcat": [{
                "title": {"text": "Source: Bloomberg, HSBC", "orient": "bottom", "anchor": "start", "frame": "bounds", "fontSize": 8, "offset": 12, "dx": -3},
                "bounds": "flush",
                "vconcat": [{
                  "title": {"text": "GBP-USD spot rate vs modelled paths", "anchor": "middle", "frame": "group", "fontSize": 11, "offset": -16},
                  "width": 292, "height": 203,
                  "layer": [
                    {
                      "data": {"name": "gbp_spot"},
                      "mark": {"type": "line", "color": "#d7001a", "strokeWidth": 2},
                      "encoding": {
                        "x": {"field": "date", "type": "temporal", "title": null,
                          "scale": {"type": "utc", "domain": [{"year": 2026, "month": 1, "date": 1, "utc": true}, {"year": 2026, "month": 6, "date": 12, "utc": true}]},
                          "axis": {"values": [{"year": 2026, "month": 1, "date": 1, "utc": true}, {"year": 2026, "month": 2, "date": 1, "utc": true}, {"year": 2026, "month": 3, "date": 1, "utc": true}, {"year": 2026, "month": 4, "date": 1, "utc": true}, {"year": 2026, "month": 5, "date": 1, "utc": true}, {"year": 2026, "month": 6, "date": 1, "utc": true}], "format": "%b-%y", "labelFlush": true, "labelFlushOffset": 4, "grid": false, "tickSize": 5, "labelPadding": 8}},
                        "y": {"field": "value", "type": "quantitative", "title": null,
                          "scale": {"domain": [1.31, 1.39], "nice": false},
                          "axis": {"values": [1.31, 1.32, 1.33, 1.34, 1.35, 1.36, 1.37, 1.38, 1.39], "tickCount": 10, "format": ".2f", "tickSize": 6, "labelPadding": 4, "grid": true}}
                      }
                    },
                    {
                      "data": {"name": "gbp_paths"},
                      "mark": {"type": "area", "color": "#d4d4d4", "opacity": 0.85},
                      "encoding": {
                        "x": {"field": "date", "type": "temporal", "title": null},
                        "y": {"field": "lower", "type": "quantitative", "title": null},
                        "y2": {"field": "upper"}
                      }
                    },
                    {
                      "data": {"name": "gbp_paths"},
                      "mark": {"type": "line", "color": "#111111", "strokeWidth": 1.5},
                      "encoding": {
                        "x": {"field": "date", "type": "temporal", "title": null},
                        "y": {"field": "upper", "type": "quantitative", "title": null}
                      }
                    },
                    {
                      "data": {"name": "gbp_paths"},
                      "mark": {"type": "line", "color": "#111111", "strokeWidth": 1.5},
                      "encoding": {
                        "x": {"field": "date", "type": "temporal", "title": null},
                        "y": {"field": "lower", "type": "quantitative", "title": null}
                      }
                    },
                    {
                      "data": {"values": [{}]},
                      "mark": {"type": "text", "align": "left", "baseline": "middle", "fontSize": 11, "lineHeight": 15, "color": "#000",
                        "text": ["actual (12 Jun): 1.3406", "range: 1.3187 - 1.3273", "median: 1.3223"]},
                      "encoding": {
                        "x": {"datum": {"year": 2026, "month": 1, "date": 5, "utc": true}, "type": "temporal"},
                        "y": {"datum": 1.3268}
                      }
                    }
                  ]
                }]
              }]
            }
          ]
        }
      ]
    }
  ]
}
